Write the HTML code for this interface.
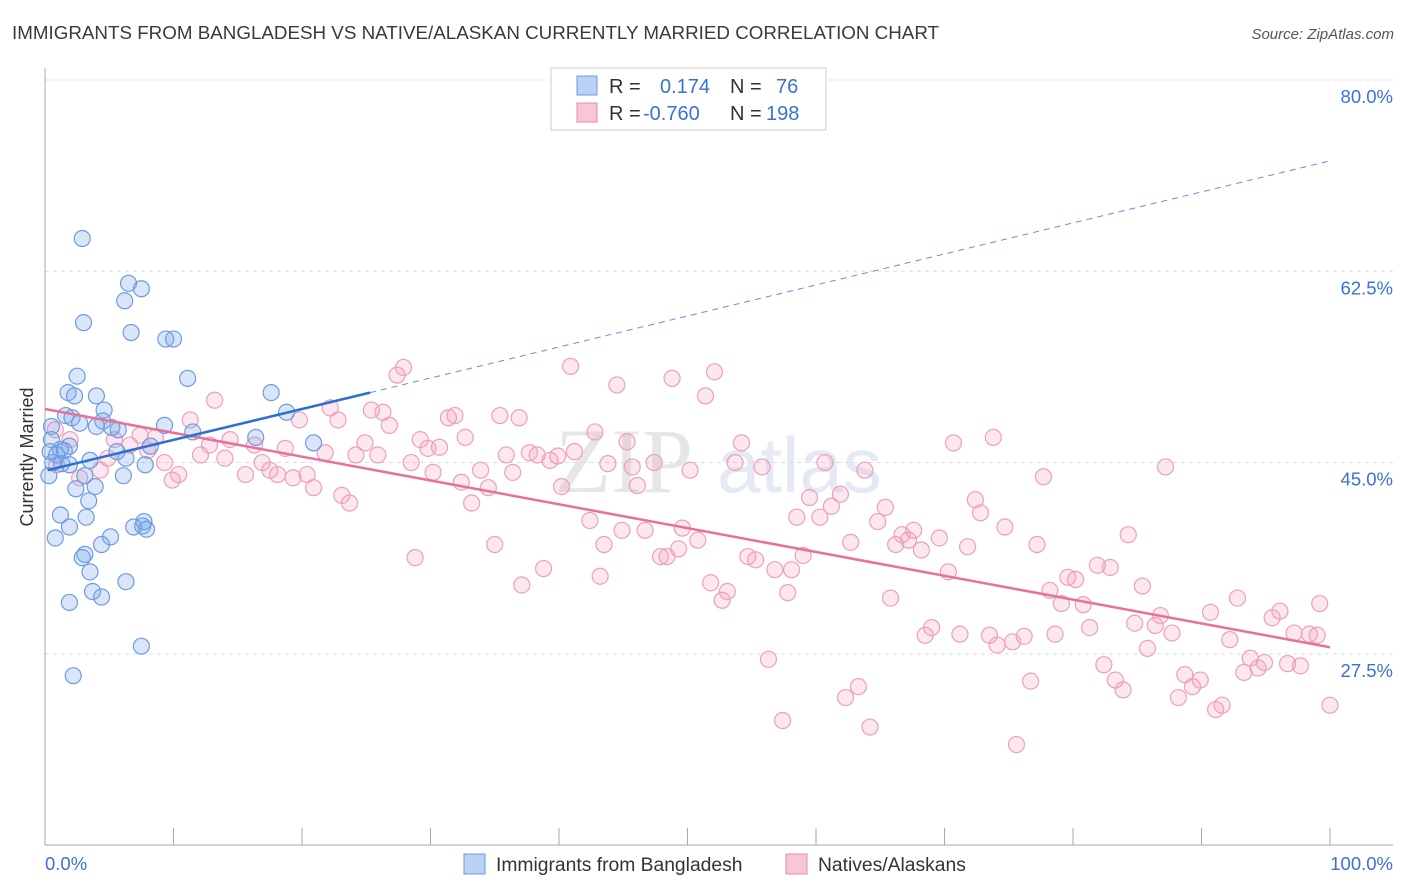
<!DOCTYPE html>
<html><head><meta charset="utf-8">
<style>
body{margin:0;background:#fff;font-family:"Liberation Sans",sans-serif;}
svg{display:block}
</style></head>
<body>
<svg id="chart" width="1406" height="892" xmlns="http://www.w3.org/2000/svg" font-family="Liberation Sans, sans-serif">
<text x="12" y="39" font-size="18.8" fill="#3a3a3a">IMMIGRANTS FROM BANGLADESH VS NATIVE/ALASKAN CURRENTLY MARRIED CORRELATION CHART</text>
<text x="1394" y="39" font-size="15" fill="#555" font-style="italic" text-anchor="end">Source: ZipAtlas.com</text>
<g>
<text x="555" y="492" font-size="92" fill="#e6e6e6" font-family="Liberation Serif, serif">ZIP</text>
<text x="717" y="492" font-size="78" fill="#e3eaf6">atlas</text>
</g>
<g id="grid"></g>
<g id="axes"></g>
<g id="marks"></g>
<text transform="translate(33,457) rotate(-90)" font-size="18" fill="#333" text-anchor="middle">Currently Married</text>
<g>
<rect x="551" y="68" width="275" height="62" fill="#fff" stroke="#ccc"/>
<rect x="577" y="76" width="20" height="19" fill="#b9d2f5" stroke="#6b9be0"/>
<rect x="577" y="103" width="20" height="19" fill="#f9c6d6" stroke="#e98aaa"/>
<text x="609" y="93" font-size="20" fill="#333">R =</text>
<text x="660" y="93" font-size="20" fill="#3a72d0">0.174</text>
<text x="730" y="93" font-size="20" fill="#333">N =</text>
<text x="776" y="93" font-size="20" fill="#3a72d0">76</text>
<text x="609" y="120" font-size="20" fill="#333">R =</text>
<text x="643" y="120" font-size="20" fill="#3a72d0">-0.760</text>
<text x="730" y="120" font-size="20" fill="#333">N =</text>
<text x="766" y="120" font-size="20" fill="#3a72d0">198</text>
</g>
<g>
<rect x="464" y="854" width="21" height="20" fill="#b9d2f5" stroke="#6b9be0"/>
<text x="496" y="871" font-size="19.3" fill="#333">Immigrants from Bangladesh</text>
<rect x="786" y="854" width="21" height="20" fill="#f9c6d6" stroke="#e98aaa"/>
<text x="818" y="871" font-size="19.3" fill="#333">Natives/Alaskans</text>
</g>
</svg>
<script>
const yTicks=[80,62.5,45,27.5];
const yTickLabels=["80.0%","62.5%","45.0%","27.5%"];
const xTickVals=[0,10,20,30,40,50,60,70,80,90,100];
const xEndLabels=["0.0%","100.0%"];
const blueX=[2.9,6.5,7.5,6.2,3.0,6.7,9.4,10.0,11.1,2.5,17.6,1.8,2.3,4.0,4.6,1.6,2.1,18.8,4.5,2.7,4.0,9.3,0.5,5.7,5.2,11.5,16.4,20.9,1.9,0.5,1.2,0.4,0.9,1.5,8.2,5.6,6.3,3.5,0.6,1.3,1.9,7.8,0.3,3.1,6.1,3.9,2.4,3.4,1.2,3.2,7.7,7.6,6.9,7.9,1.9,0.8,5.1,4.4,3.1,2.9,3.5,6.3,3.7,4.4,1.9,7.5,2.2];
const blueY=[65.5,61.4,60.9,59.8,57.8,56.9,56.3,56.3,52.7,52.9,51.4,51.4,51.1,51.1,49.8,49.3,49.1,49.6,48.8,48.6,48.3,48.4,48.3,48.0,48.2,47.8,47.3,46.8,46.5,47.1,46.2,46.0,45.7,46.1,46.5,46.0,45.4,45.2,45.0,44.9,44.8,44.8,43.8,43.8,43.8,42.8,42.6,41.5,40.2,40.0,39.6,39.2,39.1,38.9,39.1,38.1,38.2,37.5,36.6,36.3,35.0,34.1,33.2,32.7,32.2,28.2,25.5];
const pinkX=[0.8,1.95,0.9,2.7,4.3,4.9,5.4,6.6,7.4,8.0,8.6,9.3,9.9,10.4,11.3,12.1,13.2,12.8,14.0,14.4,15.6,16.3,16.9,17.5,18.1,18.7,19.3,19.8,20.4,20.9,21.8,22.2,22.8,23.1,23.7,24.2,24.9,25.4,25.9,26.3,26.8,27.4,27.9,28.5,28.8,29.2,29.8,30.2,30.7,31.4,31.9,32.4,32.7,33.2,33.9,34.5,35.0,35.4,35.9,36.4,36.9,37.1,37.7,38.3,38.8,39.3,39.9,40.2,40.9,41.2,42.4,42.8,43.2,43.5,43.8,44.5,44.9,45.3,45.7,46.1,46.7,47.4,47.9,48.4,48.8,49.3,49.6,50.2,50.8,51.4,51.8,52.1,52.7,53.1,53.7,54.2,54.7,55.3,55.8,56.3,56.8,57.4,57.8,58.1,58.5,59.0,59.5,60.3,60.7,61.2,61.9,62.3,62.7,63.3,63.8,64.2,64.8,65.4,65.8,66.2,66.7,67.2,67.6,68.2,68.5,69.0,69.6,70.3,70.7,71.2,71.8,72.4,72.8,73.5,73.8,74.1,74.7,75.3,75.6,76.2,76.7,77.2,77.7,78.2,78.6,79.1,79.6,80.2,80.8,81.3,81.9,82.4,82.9,83.3,83.9,84.3,84.8,85.4,85.8,86.4,86.8,87.2,87.7,88.2,88.7,89.3,89.9,90.7,91.1,91.6,92.2,92.8,93.3,93.8,94.4,94.9,95.5,96.1,96.7,97.2,97.7,98.4,99.0,99.2,100];
const pinkY=[48.0,47.1,44.8,43.6,44.3,45.4,47.1,46.6,47.5,46.1,47.3,45.0,43.4,43.9,48.9,45.7,50.7,46.6,45.4,47.1,43.9,46.6,45.0,44.3,43.9,46.3,43.6,48.9,43.9,42.7,45.9,50.0,48.9,42.0,41.3,45.7,46.8,49.8,45.7,49.6,48.4,53.0,53.7,45.0,36.3,47.1,46.3,44.1,46.4,49.1,49.3,43.2,47.3,41.3,44.3,42.7,37.5,49.3,45.7,44.1,49.1,33.8,45.9,45.7,35.3,45.2,45.6,42.8,53.8,46.0,39.7,47.8,34.6,37.5,44.9,52.1,38.8,46.9,44.6,42.9,38.8,45.0,36.4,36.4,52.7,37.1,39.0,44.3,37.9,51.1,34.0,53.3,32.4,33.2,45.0,46.8,36.4,36.1,44.6,27.0,35.2,21.4,33.1,35.2,40.0,36.5,41.8,40.0,45.0,41.0,42.1,23.5,37.7,24.5,44.3,20.8,39.6,40.9,32.6,37.5,38.4,37.9,38.8,37.0,29.2,29.9,38.1,35.0,46.8,29.3,37.3,41.6,40.4,29.2,47.3,28.3,39.1,28.6,19.2,29.1,25.0,37.5,43.7,33.3,29.3,32.1,34.5,34.3,32.0,29.9,35.6,26.5,35.4,25.1,24.2,38.4,30.3,33.7,28.0,30.1,31.0,44.6,29.4,23.5,25.6,24.5,25.1,31.3,22.4,22.8,28.8,32.6,25.8,27.1,26.2,26.7,30.8,31.4,26.6,29.4,26.4,29.3,29.2,32.1,22.8];
const blueTrend=[0.2,44.3,25.3,51.4,100,72.6];
const pinkTrend=[0,49.9,100,28.1];

const NS="http://www.w3.org/2000/svg";
const X0=45,X1=1330,Y80=80,PXPER=10.93;
function sx(v){return X0+(X1-X0)*v/100;}
function sy(v){return Y80+(80-v)*PXPER;}
function mk(parent,tag,attrs){const e=document.createElementNS(NS,tag);for(const k in attrs)e.setAttribute(k,attrs[k]);parent.appendChild(e);return e;}
const grid=document.getElementById('grid'),axes=document.getElementById('axes'),marks=document.getElementById('marks');
yTicks.forEach((t,i)=>{
  const l=mk(grid,'line',{x1:45,x2:1393,y1:sy(t),y2:sy(t),stroke:'#ddd','stroke-dasharray':'4,4'});
  
  
  const tx=mk(axes,'text',{x:1393,y:sy(t)+23,'font-size':18.5,fill:'#3a72d0','text-anchor':'end'});
  tx.textContent=yTickLabels[i];
  
  
});
const ya=mk(axes,'line',{x1:45,x2:45,y1:68,y2:845,stroke:'#aaa'});


const xa=mk(axes,'line',{x1:45,x2:1393,y1:845,y2:845,stroke:'#aaa'});


xTickVals.forEach(v=>{
  const t=mk(axes,'line',{x1:sx(v),x2:sx(v),y1:828,y2:845,stroke:'#aaa'});
  
  
});
const xl0=mk(axes,'text',{x:45,y:870,'font-size':18.5,fill:'#3a72d0'});xl0.textContent=xEndLabels[0];


const xl1=mk(axes,'text',{x:1393,y:870,'font-size':18.5,fill:'#3a72d0','text-anchor':'end'});xl1.textContent=xEndLabels[1];



pinkX.forEach((x,i)=>{
  const c=mk(marks,'circle',{cx:sx(x),cy:sy(pinkY[i]),r:8,fill:'rgba(244,160,186,0.25)',stroke:'#ee9fba','stroke-width':1.2});
  
  
});
blueX.forEach((x,i)=>{
  const c=mk(marks,'circle',{cx:sx(x),cy:sy(blueY[i]),r:8,fill:'rgba(120,165,235,0.28)',stroke:'#6e9ce0','stroke-width':1.2});
  
  
});
const pt=mk(marks,'line',{x1:sx(pinkTrend[0]),y1:sy(pinkTrend[1]),x2:sx(pinkTrend[2]),y2:sy(pinkTrend[3]),stroke:'#e8709a','stroke-width':2.5});


const bd=mk(marks,'line',{x1:sx(blueTrend[2]),y1:sy(blueTrend[3]),x2:sx(blueTrend[4]),y2:sy(blueTrend[5]),stroke:'#5f90dc','stroke-width':1,'stroke-dasharray':'6,5'});


const bt=mk(marks,'line',{x1:sx(blueTrend[0]),y1:sy(blueTrend[1]),x2:sx(blueTrend[2]),y2:sy(blueTrend[3]),stroke:'#2f6fd0','stroke-width':2.5});


</script>
</body></html>
